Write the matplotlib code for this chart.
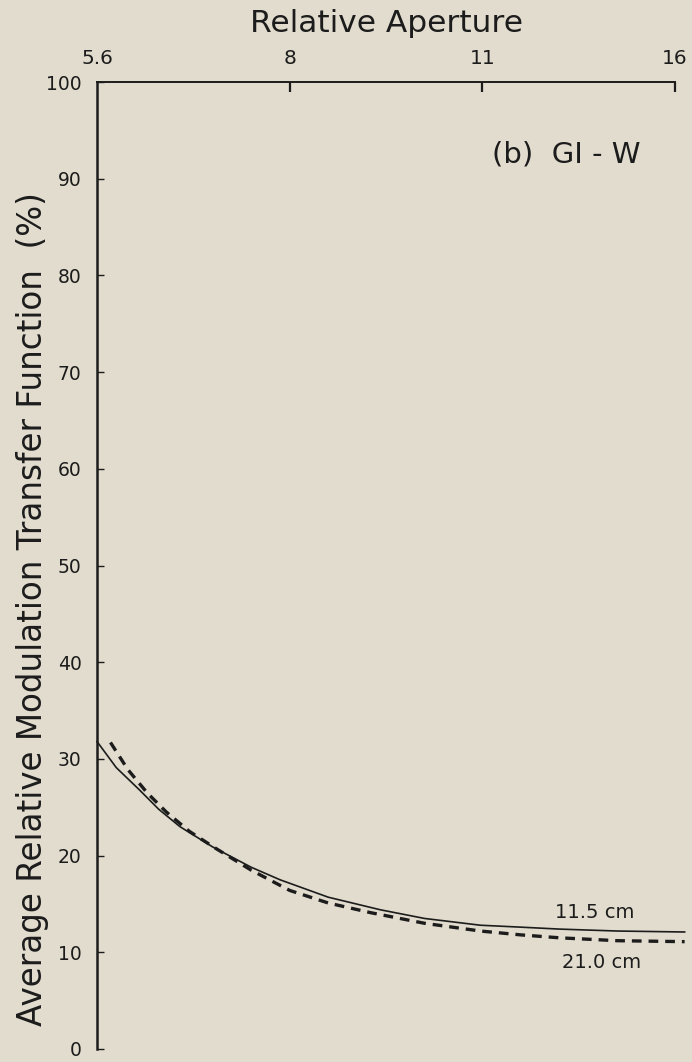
import matplotlib
matplotlib.use("Agg")
import matplotlib.pyplot as plt

# Data (x in stops from f/5.6; y in %)
f_labels = ["5.6", "8", "11", "16"]
f_stops = [0, 1, 2, 3]
y_ticks = list(range(0, 101, 10))

stops_115 = [0.0, 0.1, 0.22, 0.32, 0.43, 0.6, 0.8, 0.95, 1.2, 1.47, 1.7, 1.99, 2.2, 2.4, 2.7, 3.05]
mtf_115 = [31.8, 29.1, 26.8, 24.8, 23.0, 20.9, 18.8, 17.5, 15.7, 14.4, 13.5, 12.8, 12.6, 12.4, 12.2, 12.1]

stops_210 = [0.07, 0.16, 0.26, 0.36, 0.48, 0.62, 0.8, 1.0, 1.2, 1.42, 1.7, 1.99, 2.2, 2.4, 2.7, 3.05]
mtf_210 = [31.7, 28.9, 26.5, 24.5, 22.5, 20.7, 18.5, 16.4, 15.1, 14.1, 13.0, 12.2, 11.8, 11.5, 11.2, 11.1]

label_115 = "11.5 cm"
label_210 = "21.0 cm"

bg = "#e1dccd"
ink = "#1c1c1c"

plt.rcParams["font.family"] = ["DejaVu Sans"]
plt.rcParams["lines.scale_dashes"] = False

fig = plt.figure(figsize=(6.92, 10.62), dpi=100, facecolor=bg)
ax = fig.add_axes([97 / 692, 1 - 1049 / 1062, (675 - 97) / 692, (1049 - 82) / 1062])
ax.set_facecolor(bg)

ax.plot(stops_115, mtf_115, color=ink, lw=1.2, clip_on=False)
ax.plot(stops_210, mtf_210, color=ink, lw=2.4, dashes=(7, 5), clip_on=False)

ax.set_xlim(0, 3)
ax.set_ylim(0, 100)

for s in ["right", "bottom"]:
    ax.spines[s].set_visible(False)
ax.spines["left"].set_linewidth(1.8)
ax.spines["top"].set_linewidth(1.4)
for s in ["left", "top"]:
    ax.spines[s].set_color(ink)

ax.xaxis.tick_top()
ax.set_xticks(f_stops)
ax.set_xticklabels(f_labels, fontsize=14.5, color=ink)
ax.tick_params(axis="x", direction="in", length=7, width=1.6, pad=10, colors=ink)
ax.set_yticks(y_ticks)
ax.set_yticklabels([str(v) for v in y_ticks], fontsize=13.5, color=ink)
ax.tick_params(axis="y", direction="in", length=5, width=1.0, pad=11, colors=ink)
ax.xaxis.get_major_ticks()[0].tick2line.set_visible(False)

fig.text(386 / 692, 1 - 24 / 1062, "Relative Aperture", ha="center", va="center",
         fontsize=22.5, color=ink)
fig.text(33 / 692, 1 - 609 / 1062, "Average Relative Modulation Transfer Function  (%)",
         rotation=90, ha="center", va="center", fontsize=23.5, color=ink)
fig.text(566 / 692, 1 - 154 / 1062, "(b)  GI - W", ha="center", va="center",
         fontsize=21, color=ink)

fig.text(595 / 692, 1 - 913 / 1062, label_115, ha="center", va="center", fontsize=14, color=ink)
fig.text(602 / 692, 1 - 963 / 1062, label_210, ha="center", va="center", fontsize=14, color=ink)

fig.savefig("out.png", dpi=100, facecolor=bg)
